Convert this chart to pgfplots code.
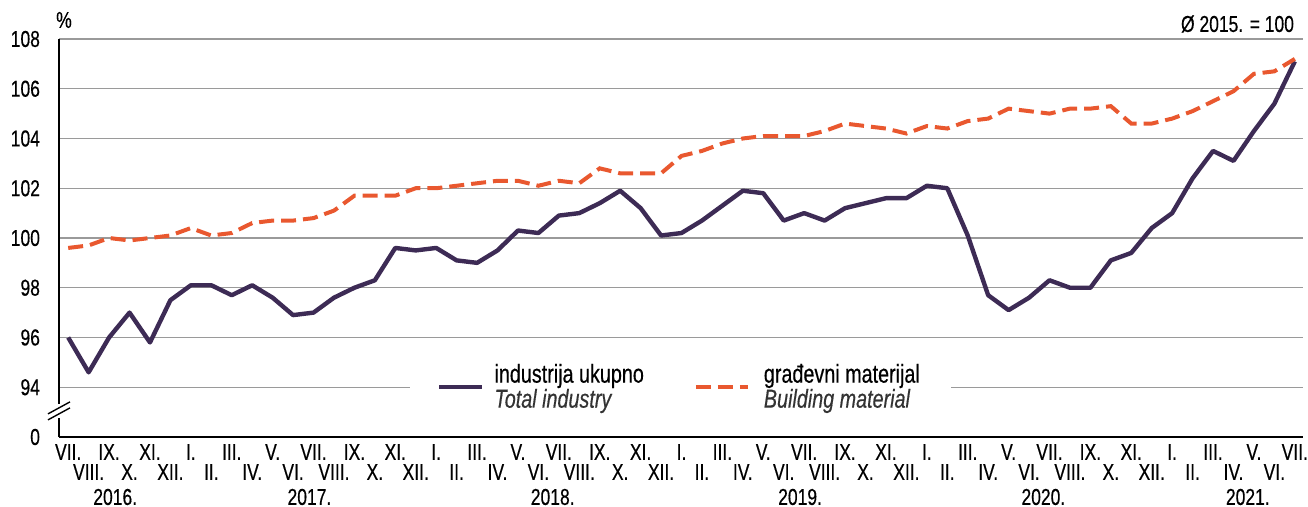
\documentclass[border=0pt]{standalone}
\usepackage{pgfplots}
\usepackage{pgfplotstable}
\pgfplotsset{compat=1.18}
\usepackage{fontspec}
\setmainfont{Liberation Sans}[FakeStretch=0.76, FakeBold=0.4]
\definecolor{ind}{HTML}{3D2B55}
\definecolor{bm}{HTML}{E9582F}
\definecolor{gridc}{HTML}{9A9A9A}
\pgfplotsset{
  legA/.style={legend image code/.code={\draw[##1] (0pt,0pt) -- (21.5pt,0pt); \path (24.5pt,0pt);}},
  legB/.style={legend image code/.code={\draw[##1] (0pt,0pt) -- (26pt,0pt); \path (31pt,0pt);}},
}
\pgfplotstableread{
x ind bm
0 96.0 99.6
1 94.6 99.7
2 96.0 100.0
3 97.0 99.9
4 95.8 100.0
5 97.5 100.1
6 98.1 100.4
7 98.1 100.1
8 97.7 100.2
9 98.1 100.6
10 97.6 100.7
11 96.9 100.7
12 97.0 100.8
13 97.6 101.1
14 98.0 101.7
15 98.3 101.7
16 99.6 101.7
17 99.5 102.0
18 99.6 102.0
19 99.1 102.1
20 99.0 102.2
21 99.5 102.3
22 100.3 102.3
23 100.2 102.1
24 100.9 102.3
25 101.0 102.2
26 101.4 102.8
27 101.9 102.6
28 101.2 102.6
29 100.1 102.6
30 100.2 103.3
31 100.7 103.5
32 101.3 103.8
33 101.9 104.0
34 101.8 104.1
35 100.7 104.1
36 101.0 104.1
37 100.7 104.3
38 101.2 104.6
39 101.4 104.5
40 101.6 104.4
41 101.6 104.2
42 102.1 104.5
43 102.0 104.4
44 100.1 104.7
45 97.7 104.8
46 97.1 105.2
47 97.6 105.1
48 98.3 105.0
49 98.0 105.2
50 98.0 105.2
51 99.1 105.3
52 99.4 104.6
53 100.4 104.6
54 101.0 104.8
55 102.4 105.1
56 103.5 105.5
57 103.1 105.9
58 104.3 106.6
59 105.4 106.7
60 107.1 107.2
}\data
\begin{document}
\begin{tikzpicture}[font=\fontsize{11.5pt}{13pt}\selectfont]
\path[use as bounding box] (0,0) rectangle (654pt,253.5pt);
\begin{axis}[
  at={(29.5pt,35pt)}, anchor=south west,
  width=622pt, height=199pt, scale only axis,
  xmin=-0.45, xmax=60.4, ymin=92, ymax=108,
  axis x line*=bottom, axis y line*=left,
  axis line style={black, line width=0.8pt, -},
  ytick={92,94,...,108},
  yticklabels={0,94,96,98,100,102,104,106,108},
  ymajorgrids, grid style={gridc, line width=0.6pt},
  major tick length=0pt,
  /pgf/number format/assume math mode=true,
  yticklabel style={font=\fontsize{11.5pt}{13pt}\selectfont, xshift=-6pt},
  xtick={0,2,...,60},
  xticklabels={VII.,IX.,XI.,I.,III.,V.,VII.,IX.,XI.,I.,III.,V.,VII.,IX.,XI.,I.,III.,V.,VII.,IX.,XI.,I.,III.,V.,VII.,IX.,XI.,I.,III.,V.,VII.},
  extra x ticks={1,3,...,59},
  extra x tick labels={VIII.,X.,XII.,II.,IV.,VI.,VIII.,X.,XII.,II.,IV.,VI.,VIII.,X.,XII.,II.,IV.,VI.,VIII.,X.,XII.,II.,IV.,VI.,VIII.,X.,XII.,II.,IV.,VI.},
  extra x tick style={xticklabel style={yshift=-10pt}, major tick length=0pt},
  xticklabel style={font=\fontsize{11.5pt}{13pt}\selectfont, anchor=north, yshift=0pt},
  legend columns=2,
  legend cell align=left,
  legend style={at={(axis cs:29.95,94)}, anchor=center, draw=none, fill=white,
    inner xsep=13.5pt, inner ysep=5pt,
    nodes={align=left, font=\fontsize{13pt}{13pt}\selectfont},
    /tikz/every even column/.append style={column sep=23pt}},
  clip=false,
]
\addplot[ind, line width=2.2pt, line join=round, legA] table[x=x, y=ind] {\data};
\addlegendentry{industrija ukupno\\[-0.5pt]\textcolor{black!80}{\textit{Total industry}}}
\addplot[bm, line width=2pt, dash pattern=on 7.5pt off 3.5pt, legB] table[x=x, y=bm] {\data};
\addlegendentry{građevni materijal\\[-0.5pt]\textcolor{black!80}{\textit{Building material}}}
\coordinate (brk) at (axis cs:-0.45,93.05);
\node[anchor=center] at (axis cs:2.3,92) [yshift=-30pt] {2016.};
\node[anchor=center] at (axis cs:11.8,92) [yshift=-30pt] {2017.};
\node[anchor=center] at (axis cs:23.7,92) [yshift=-30pt] {2018.};
\node[anchor=center] at (axis cs:35.8,92) [yshift=-30pt] {2019.};
\node[anchor=center] at (axis cs:47.7,92) [yshift=-30pt] {2020.};
\node[anchor=center] at (axis cs:57.7,92) [yshift=-30pt] {2021.};
\node[anchor=center] at (rel axis cs:0,1) [xshift=2.5pt, yshift=9.5pt] {\%};
\node[anchor=east] at (rel axis cs:1,1) [xshift=-1pt, yshift=7.5pt] {Ø 2015. = 100};
\end{axis}
\draw[white, line width=1.5pt] ([yshift=-3.5pt]brk) -- ([yshift=3.5pt]brk);
\draw[black, line width=0.7pt] ([xshift=-5.5pt, yshift=-4.5pt]brk) -- ([xshift=5.5pt, yshift=1.5pt]brk);
\draw[black, line width=0.7pt] ([xshift=-5.5pt, yshift=-1.5pt]brk) -- ([xshift=5.5pt, yshift=4.5pt]brk);
\end{tikzpicture}
\end{document}
